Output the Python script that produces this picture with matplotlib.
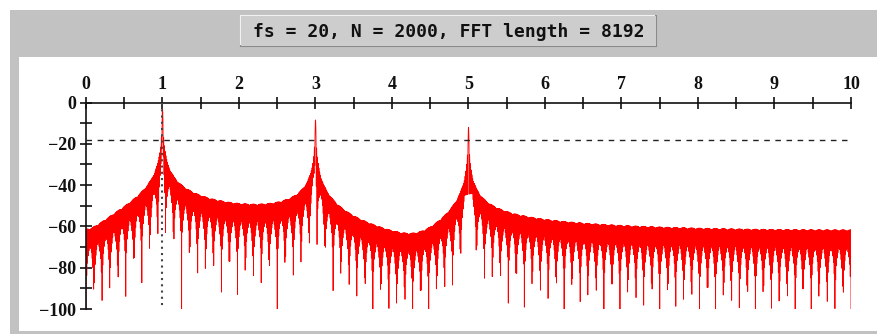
import numpy as np
import matplotlib
matplotlib.use("Agg")
import matplotlib.pyplot as plt
from matplotlib.patches import Rectangle
from matplotlib.lines import Line2D
from matplotlib.ticker import MultipleLocator

# Analysis parameters (shown in the title)
fs = 20
N = 2000
nfft = 8192

# Tones in the test signal: frequency (Hz), peak level (dB), phase (degrees)
tone_freqs = [1, 3, 5]
tone_peak_db = [-3.0, -8.4, -12.0]
tone_phase_deg = [30, 270, 45]

# Reference levels for the marker lines
threshold_db = -18
marker_freq = 1

x_ticks = list(range(0, 11))
y_ticks = [0, -20, -40, -60, -80, -100]

# Sampled signal and its zero-padded spectrum
t = np.arange(N) / fs
amps = 10 ** (np.array(tone_peak_db) / 20)
phases = np.radians(tone_phase_deg)
sig = np.zeros(N)
for f0, a, p in zip(tone_freqs, amps, phases):
    sig += a * np.cos(2 * np.pi * f0 * t + p)
spec = np.fft.rfft(sig, nfft)
freqs = np.fft.rfftfreq(nfft, 1 / fs)
mag_db = 20 * np.log10(np.abs(spec) / (N / 2) + 1e-12)
mag_db = np.clip(mag_db, -100, None)

W, H = 878, 334
fig = plt.figure(figsize=(W / 100, H / 100), dpi=100)
fig.patch.set_facecolor("white")

def fx(px):
    return px / W

def fy(py):
    return 1 - py / H

# Gray frame and white plotting panel
fig.patches.append(Rectangle((fx(10), 0), fx(868), fy(10), transform=fig.transFigure,
                             facecolor="#c2c2c2", edgecolor="none", zorder=-3))
fig.patches.append(Rectangle((fx(19), fy(331)), fx(858), (331 - 57) / H, transform=fig.transFigure,
                             facecolor="white", edgecolor="none", zorder=-2))

# Title box with bevelled edges
bx0, bx1, by0, by1 = 241, 656, 16, 46
fig.patches.append(Rectangle((fx(bx0), fy(by1)), fx(bx1 - bx0), (by1 - by0) / H,
                             transform=fig.transFigure, facecolor="#cdcdcd",
                             edgecolor="none", zorder=-1))
for (xa, ya, xb, yb, c) in [(bx0, by0, bx1, by0, "#f2f2f2"), (bx0, by0, bx0, by1, "#f2f2f2"),
                            (bx0, by1, bx1, by1, "#8a8a8a"), (bx1, by0, bx1, by1, "#8a8a8a")]:
    fig.lines.append(Line2D([fx(xa), fx(xb)], [fy(ya), fy(yb)], transform=fig.transFigure,
                            color=c, linewidth=1.5, zorder=-1))
fig.text(fx((bx0 + bx1) / 2), fy((by0 + by1) / 2 + 1),
         f"fs = {fs}, N = {N}, FFT length = {nfft}",
         ha="center", va="center", fontsize=13, fontweight="bold",
         family="DejaVu Sans Mono", color="#111111")

ax = fig.add_axes([fx(86), fy(309), fx(851 - 86), (309 - 102.5) / H])
ax.set_zorder(5)
ax.patch.set_alpha(0)
ax.plot(freqs, mag_db, color="#ff0000", linewidth=0.6, zorder=2)
ax.axhline(threshold_db, xmin=0, xmax=0.995, color="#222222", linewidth=1,
           linestyle=(0, (4, 4)), zorder=3)
ax.plot([marker_freq, marker_freq], [0, -100], color="#444444", linewidth=1.5,
        linestyle=(0, (1, 2)), zorder=3)

ax.set_xlim(0, 10)
ax.set_ylim(-100, 0)
for s in ("right", "bottom"):
    ax.spines[s].set_visible(False)
for s in ("top", "left"):
    ax.spines[s].set_linewidth(1.2)
    ax.spines[s].set_color("#111111")

ax.xaxis.tick_top()
ax.set_xticks(x_ticks)
ax.xaxis.set_minor_locator(MultipleLocator(0.5))
ax.set_yticks(y_ticks)
ax.yaxis.set_minor_locator(MultipleLocator(10))
ax.tick_params(which="both", direction="inout", length=8, width=1.2, color="#111111")
ax.tick_params(axis="x", which="major", pad=3)
ax.tick_params(axis="y", which="major", pad=3)
for lab in ax.get_xticklabels() + ax.get_yticklabels():
    lab.set_family("Liberation Serif")
    lab.set_fontweight("bold")
    lab.set_fontsize(13)
    lab.set_color("#111111")

fig.savefig("out.png", dpi=100, facecolor=fig.get_facecolor())
